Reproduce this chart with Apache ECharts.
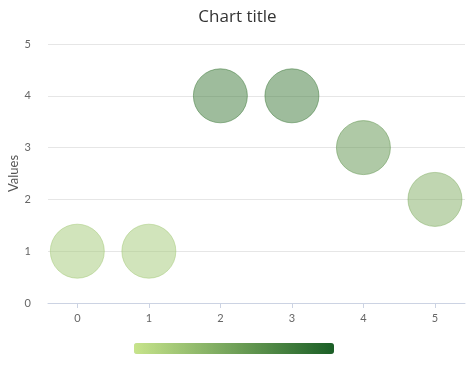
<!DOCTYPE html>
<html><head><meta charset="utf-8">
<script src="https://cdn.jsdelivr.net/npm/echarts@6/dist/echarts.min.js"></script>
<style>html,body{margin:0;padding:0;background:#fff}#c{width:475px;height:370px}</style>
</head><body><div id="c"></div>
<script>
const xValues = [0, 1, 2, 3, 4, 5];
const yValues = [1, 1, 4, 4, 3, 2];
const xTicks = [0, 1, 2, 3, 4, 5];
const yTicks = [0, 1, 2, 3, 4, 5];
const titleText = 'Chart title';
const yName = 'Values';

const rampColors = ['#c7e48b', '#1a5e26'];
const vMin = 0, vMax = 5;
const chart = echarts.init(document.getElementById('c'));
const font = 'Lato, "Open Sans", sans-serif';
const data = xValues.map((x, i) => ({
  value: [x, yValues[i]],
  itemStyle: { borderColor: echarts.color.lerp((yValues[i] - vMin) / (vMax - vMin), rampColors) }
}));
chart.setOption({
  animation: false,
  textStyle: { fontFamily: font },
  title: { text: titleText, left: 'center', top: 4, textStyle: { fontFamily: '"Open Sans", sans-serif', fontSize: 17, fontWeight: 'normal', color: '#333' } },
  grid: { left: 48, right: 10, top: 44, bottom: 67, outerBoundsMode: 'none', containLabel: false },
  xAxis: {
    type: 'value', min: -0.41, max: 5.42,
    axisLine: { show: true, lineStyle: { color: '#ccd3e3' } },
    axisTick: { show: true, customValues: xTicks, length: 5, lineStyle: { color: '#ccd3e3' } },
    axisLabel: { customValues: xTicks, color: '#666', fontSize: 11, margin: 10 },
    splitLine: { show: false }
  },
  yAxis: {
    type: 'value', min: 0, max: 5, interval: 1,
    name: yName, nameLocation: 'middle', nameGap: 28, nameMoveOverlap: false,
    nameTextStyle: { color: '#555', fontSize: 13, fontFamily: font },
    axisLine: { show: false },
    axisTick: { show: false },
    axisLabel: { color: '#666', fontSize: 11, margin: 17 },
    splitLine: { show: true, lineStyle: { color: '#e6e6e6' } }
  },
  visualMap: {
    type: 'continuous', min: vMin, max: vMax, dimension: 1,
    orient: 'horizontal', left: 134, bottom: 16, padding: 0,
    itemWidth: 11, itemHeight: 200,
    calculable: false, text: null, showLabel: false,
    inRange: { color: rampColors },
    seriesIndex: 0
  },
  series: [{
    type: 'scatter',
    symbolSize: 54,
    itemStyle: { opacity: 0.5, borderWidth: 1 },
    data: data
  }]
});
</script></body></html>
